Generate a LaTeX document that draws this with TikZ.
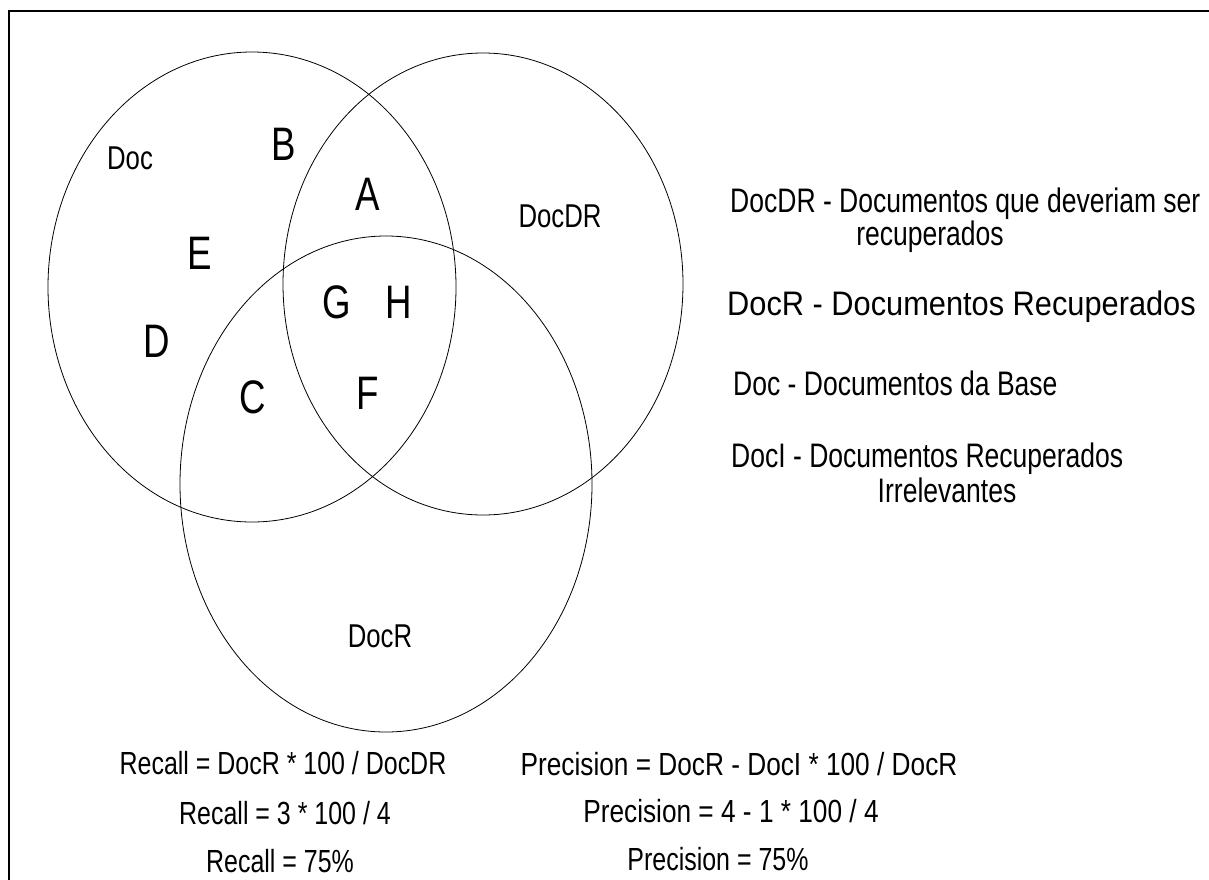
\documentclass[tikz,border=0pt]{standalone}
\usepackage{fontspec}
\setmainfont{Liberation Sans}[FakeStretch=0.78]
\newfontfamily\widesans{Liberation Sans}[FakeStretch=0.905]
\newfontfamily\midsans{Liberation Sans}[FakeStretch=0.82]
\usetikzlibrary{shapes.geometric}
\begin{document}
\begin{tikzpicture}[x=1pt,y=-1pt,
  set/.style={ellipse, draw, line width=0.8pt, inner sep=0pt},
  region/.style={inner sep=0pt, font=\fontsize{47}{55}\selectfont},
  setname/.style={inner sep=0pt, font=\fontsize{33}{39}\selectfont},
  legend/.style={inner sep=0pt, anchor=base west, font=\fontsize{34}{40}\selectfont},
  legendcont/.style={inner sep=0pt, anchor=base, font=\fontsize{34}{40}\selectfont},
  formula/.style={inner sep=0pt, anchor=base, font=\fontsize{32}{38}\selectfont}]
\useasboundingbox (0,0) rectangle (1209,879);
\clip (0,0) rectangle (1209,879);
% outer frame
\draw[line width=2.5pt] (9,900) -- (9,11) -- (1230,11);

% the three sets
\node[set, minimum width=408, minimum height=470] (doc)   at (252,287) {};
\node[set, minimum width=400, minimum height=462] (docdr) at (483,284) {};
\node[set, minimum width=412, minimum height=496] (docr)  at (386,484) {};

% set names
\node[setname] (ldoc)   at (130,158) {Doc};
\node[setname] (ldocdr) at (560,216) {DocDR};
\node[setname] (ldocr)  at (380,636) {DocR};

% regions
\node[region] (rb) at (284,144) {B};
\node[region] (ra) at (368,194) {A};
\node[region] (re) at (200,253) {E};
\node[region] (rg) at (337,302) {G};
\node[region] (rh) at (399,302) {H};
\node[region] (rd) at (157,341) {D};
\node[region] (rc) at (253,397) {C};
\node[region] (rf) at (368,393) {F};

% legend
\node[legend] (k1) at (730,212) {DocDR - Documentos que deveriam ser};
\node[legendcont] (k1b) at (930,245) {recuperados};
\node[legend] (k2) at (727,315) {\widesans DocR - Documentos Recuperados};
\node[legend] (k3) at (733,395) {Doc - Documentos da Base};
\node[legend] (k4) at (731,467) {DocI - Documentos Recuperados};
\node[legendcont] (k4b) at (947,502) {Irrelevantes};

% formulas
\node[formula] (f1) at (283,774) {Recall = DocR * 100 / DocDR};
\node[formula] (f2) at (285,824) {Recall = 3 * 100 / 4};
\node[formula] (f3) at (280,872) {Recall = 75\%};
\node[formula] (g1) at (739,775) {\midsans Precision = DocR - DocI * 100 / DocR};
\node[formula] (g2) at (731,822) {\midsans Precision = 4 - 1 * 100 / 4};
\node[formula] (g3) at (718,870) {Precision = 75\%};
\end{tikzpicture}
\end{document}
